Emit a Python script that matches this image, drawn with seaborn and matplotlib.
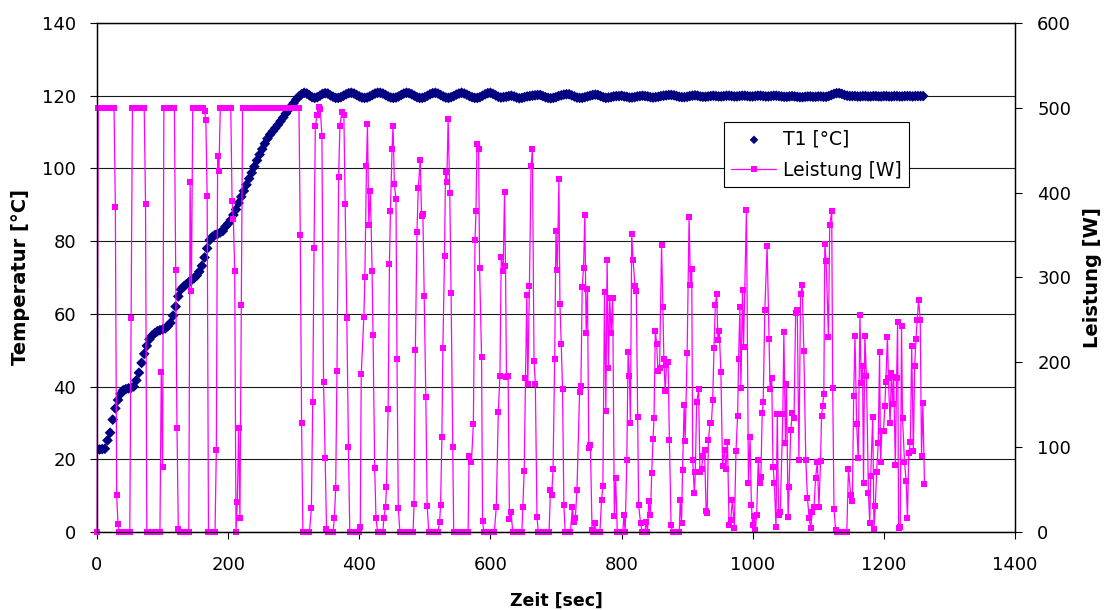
import numpy as np
import matplotlib
matplotlib.use("Agg")
import matplotlib.pyplot as plt
import seaborn as sns

# T1 [°C], one reading every 4 sec (0 .. 1260 sec)
t1_vals = [
    22.7, 22.7, 22.8, 22.9, 25.2, 27.3, 30.9, 34.0, 36.3, 38.0,
    39.0, 39.3, 39.5, 39.7, 40.0, 41.7, 43.8, 46.5, 49.0, 51.2,
    53.0, 54.0, 54.7, 55.2, 55.5, 55.7, 56.0, 56.6, 57.5, 59.5,
    62.0, 64.8, 66.7, 67.5, 68.1, 68.7, 69.3, 69.8, 70.5, 71.6,
    73.2, 75.5, 78.0, 80.3, 81.2, 81.7, 82.0, 82.4, 82.8, 84.0,
    84.8, 85.8, 87.2, 88.7, 90.5, 92.2, 93.8, 95.5, 97.2, 98.8,
    100.5, 102.2, 103.8, 105.3, 106.8, 108.2, 109.3, 110.2, 111.1, 112.0,
    113.0, 114.0, 115.1, 116.1, 117.1, 118.0, 119.0, 119.8, 120.4, 120.8,
    120.6, 120.1, 119.6, 119.4, 119.6, 120.0, 120.5, 120.7, 120.6, 120.1,
    119.7, 119.4, 119.4, 119.6, 120.0, 120.4, 120.7, 120.8, 120.6, 120.2,
    119.8, 119.5, 119.4, 119.5, 119.8, 120.2, 120.6, 120.8, 120.8, 120.6,
    120.2, 119.8, 119.5, 119.4, 119.5, 119.8, 120.2, 120.6, 120.8, 120.7,
    120.4, 120.0, 119.6, 119.4, 119.4, 119.6, 120.0, 120.4, 120.7, 120.8,
    120.6, 120.2, 119.8, 119.5, 119.4, 119.6, 119.9, 120.3, 120.6, 120.8,
    120.6, 120.3, 119.9, 119.6, 119.4, 119.4, 119.6, 120.0, 120.4, 120.7,
    120.8, 120.5, 120.1, 119.7, 119.5, 119.6, 119.7, 119.9, 120.0, 119.8,
    119.5, 119.3, 119.4, 119.6, 119.8, 119.9, 120.0, 120.1, 120.2, 120.2,
    119.9, 119.6, 119.4, 119.3, 119.4, 119.6, 119.9, 120.1, 120.3, 120.4,
    120.4, 120.1, 119.8, 119.5, 119.4, 119.4, 119.6, 119.8, 120.0, 120.2,
    120.3, 120.2, 119.9, 119.6, 119.4, 119.5, 119.6, 119.8, 119.9, 119.9,
    120.0, 119.8, 119.7, 119.5, 119.5, 119.6, 119.8, 119.9, 120.0, 119.9,
    119.8, 119.6, 119.5, 119.6, 119.7, 119.9, 120.0, 120.1, 120.2, 120.2,
    120.1, 119.9, 119.7, 119.6, 119.6, 119.7, 119.9, 120.0, 120.1, 120.0,
    119.8, 119.7, 119.7, 119.8, 119.9, 120.0, 119.9, 119.8, 119.8, 119.9,
    120.0, 120.0, 119.9, 119.8, 119.8, 119.9, 120.0, 120.0, 119.9, 119.8,
    119.8, 119.9, 120.0, 120.0, 119.9, 119.8, 119.8, 119.9, 120.0, 120.0,
    119.9, 119.8, 119.7, 119.7, 119.8, 119.9, 119.8, 119.7, 119.6, 119.6,
    119.7, 119.8, 119.8, 119.7, 119.7, 119.8, 119.8, 119.7, 119.7, 119.9,
    120.2, 120.5, 120.7, 120.7, 120.5, 120.2, 120.0, 119.9, 119.9, 119.9,
    119.8, 119.8, 119.9, 119.9, 119.8, 119.8, 119.9, 119.9, 119.8, 119.8,
    119.9, 119.9, 119.8, 119.8, 119.9, 119.9, 119.8, 119.8, 119.9, 119.9,
    119.9, 119.8, 119.9, 119.9, 119.9, 119.9,
]
t1_time = np.arange(len(t1_vals)) * 4

# Leistung [W] while heating up, one reading every 2 sec (0 .. 324 sec)
heat_w = [
    0, 500, 500, 500, 500, 500, 500, 500, 500, 500, 500, 500, 500, 500,
    383, 44, 9,
    0, 0, 0, 0, 0, 0, 0, 0, 0,
    252,
    500, 500, 500, 500, 500, 500, 500, 500, 500, 500,
    387,
    0, 0, 0, 0, 0, 0, 0, 0, 0, 0, 0,
    188, 77,
    500, 500, 500, 500, 500, 500, 500, 500, 500,
    309, 122, 4,
    0, 0, 0, 0, 0, 0, 0, 0,
    412, 284,
    500, 500, 500, 500, 500, 500, 500, 500, 500,
    496, 486, 396,
    0, 0, 0, 0, 0, 0,
    97, 443, 425,
    500, 500, 500, 500, 500, 500, 500, 500, 500,
    390, 369, 308, 0, 35, 122, 16, 268,
    500, 500, 500, 500, 500, 500, 500, 500, 500, 500, 500,
    500, 500, 500, 500, 500, 500, 500, 500, 500, 500, 500,
    500, 500, 500, 500, 500, 500, 500, 500, 500, 500, 500,
    500, 500, 500, 500, 500, 500, 500, 500, 500, 500, 500,
    350, 129,
    0, 0, 0, 0, 0, 0,
]
heat_t = np.arange(len(heat_w)) * 2

# Leistung [W] while holding 120 °C, read with their times
b_t = [327, 329, 331, 333, 335.5, 338, 340.5, 343, 345.5, 348, 350, 352, 354, 356, 358, 360,
       362, 364, 366, 368.5, 370.5, 373.5, 376.5, 378.5, 381, 383.5, 385.5, 388, 390, 392, 394, 396, 398, 400,
       401.5, 403, 407, 408.5, 411, 412.5, 414.5, 417, 419.5, 421, 423.5, 425.5, 428, 430, 432, 434, 436,
       437.5, 440, 441.5, 444, 446, 447.5, 450, 451.5, 453.5, 456, 457.5, 459.5]
b_w = [28, 153, 335, 478, 492, 501, 499, 467, 177, 87, 4, 0, 0, 0, 0, 0,
       16, 52, 190, 418, 479, 495, 492, 387, 252, 100, 0, 0, 0, 0, 0, 0, 0, 0,
       6, 186, 254, 300, 432, 481, 362, 402, 308, 232, 76, 16, 0, 0, 0, 0, 0,
       17, 29, 53, 145, 316, 378, 452, 479, 410, 392, 204, 28]

c_t = [462, 464, 466, 468, 470, 472, 474, 476, 478, 480, 482,
       483.5, 485.5, 488, 490, 493, 495, 497, 499, 501.5, 503.5,
       506, 508, 510, 512, 514, 516, 518, 520,
       522.5, 524, 526, 527.5, 530, 531.5, 533.5, 535.5, 538, 540, 542.5,
       544, 546, 548, 550, 552, 554, 556, 558, 560, 562, 564, 566,
       567.5, 571, 574, 576.5, 578, 579.5, 582, 583.5, 586.5, 588,
       590, 592, 594, 596, 598, 600, 602, 604, 606,
       609, 612, 614.5, 616.5, 619.5, 621.5, 623, 624.5, 627, 629, 631.5,
       634, 636, 638, 640, 642, 644, 646, 648,
       649.5, 651.5, 653.5, 655.5, 657, 659.5, 662, 664, 666.5, 668.5, 671]
c_w = [0, 0, 0, 0, 0, 0, 0, 0, 0, 0, 0,
       33, 214, 354, 405, 439, 372, 375, 278, 159, 31,
       0, 0, 0, 0, 0, 0, 0, 0,
       12, 32, 112, 217, 325, 424, 412, 487, 400, 282, 100,
       0, 0, 0, 0, 0, 0, 0, 0, 0, 0, 0, 0,
       90, 82, 127, 344, 378, 457, 451, 311, 206, 13,
       0, 0, 0, 0, 0, 0, 0, 0, 0,
       30, 141, 184, 324, 308, 401, 314, 183, 184, 15, 24,
       0, 0, 0, 0, 0, 0, 0, 0,
       30, 72, 181, 279, 175, 290, 431, 451, 202, 175, 18]

d_t = [673, 675, 677, 679, 681, 683, 685, 687, 689.5,
       691.5, 693.5, 695.5, 698, 700, 702, 704.5, 706, 708, 710, 712,
       714, 716, 718, 720, 722,
       725, 727.5, 729.5, 732, 736, 738, 740, 742, 744, 746, 748, 750, 752.5, 755, 757, 759,
       761, 763, 765, 767,
       769.5, 771.5, 774, 776, 778, 780, 782, 784, 786.5, 789, 791,
       793.5, 795.5, 798, 800, 802, 803.5, 805.5,
       808, 810, 812, 813.5, 815.5, 817.5, 820.5, 822.5, 824.5, 826, 829,
       831.5, 833.5, 835.5, 837.5, 839.5, 841.5, 844,
       846, 848, 849.5, 851.5, 853.5, 855.5, 858, 861, 863, 864.5, 866.5, 868.5, 871, 873, 875.5,
       878, 880, 882, 884, 886, 888,
       889.5, 891.5, 893, 895.5, 897, 900, 903, 905, 907, 908.5, 911, 912.5, 914.5, 917.5]
d_w = [0, 0, 0, 0, 0, 0, 0, 0, 0,
       50, 44, 74, 204, 355, 309, 416, 269, 222, 168, 32,
       0, 0, 0, 0, 0,
       29, 12, 16, 50, 165, 172, 289, 311, 374, 234, 286, 99, 102, 2, 0, 10,
       0, 0, 0, 0,
       38, 54, 283, 143, 321, 193, 276, 234, 276, 19, 64,
       0, 0, 0, 0, 0, 20, 0,
       85, 212, 184, 129, 351, 321, 290, 284, 136, 32, 10,
       0, 0, 0, 12, 0, 37, 20,
       69, 110, 134, 237, 222, 190, 193, 338, 265, 204, 166, 197, 200, 108, 8,
       0, 0, 0, 0, 0, 0,
       38, 11, 73, 150, 107, 211, 371, 291, 310, 85, 46, 71, 153, 168]

e_t = [919.5, 922, 924, 926.5, 929, 930.5, 932.5, 935, 937, 939, 941, 943, 945, 947, 949, 951.5,
       954, 957, 959, 961.5, 964, 966.5, 969, 972, 974.5, 977, 978.5, 980.5, 982, 984.5, 986, 990.5,
       993.5, 996, 998, 1000, 1002.5, 1004, 1006, 1008.5, 1010.5, 1012.5, 1014.5, 1016, 1018.5, 1022, 1025, 1026.5,
       1029, 1031, 1033, 1035.5, 1037.5, 1039.5, 1042, 1046, 1047.5, 1050, 1051.5, 1054, 1055.5, 1058, 1060.5, 1063,
       1065.5, 1068, 1070.5, 1073, 1075.5, 1078, 1081, 1083.5, 1086, 1088.5, 1091, 1093.5, 1096, 1098.5, 1101, 1103.5,
       1105, 1106.5, 1108.5, 1110, 1112, 1115.5, 1117.5, 1120.5, 1122, 1124, 1126.5]
e_w = [71, 74, 89, 97, 25, 22, 109, 128, 128, 156, 217, 267, 281, 226, 237, 188,
       78, 97, 74, 106, 8, 14, 38, 5, 95, 137, 204, 265, 170, 285, 218, 380,
       58, 112, 32, 8, 19, 2, 20, 85, 58, 65, 140, 153, 262, 337, 228, 169,
       182, 77, 58, 6, 139, 20, 23, 139, 236, 105, 175, 18, 53, 120, 140, 134,
       258, 262, 85, 280, 291, 213, 85, 40, 17, 5, 24, 30, 64, 83, 30, 84,
       137, 148, 163, 340, 319, 230, 362, 378, 170, 27, 2]

f_t = [1129, 1131, 1133, 1135, 1137, 1139, 1141, 1143.5,
       1146, 1149.5, 1152, 1154, 1156, 1158.5, 1161, 1163.5, 1165.5, 1167.5, 1169, 1171, 1173.5, 1176.5, 1178.5, 1180,
       1183, 1185, 1187, 1189, 1191.5, 1193.5, 1195, 1197, 1199.5, 1201.5, 1203, 1205.5, 1207, 1209.5, 1211.5, 1213.5,
       1215, 1217.5, 1219.5, 1221, 1222.5, 1225, 1227, 1228.5, 1231.5, 1234, 1236, 1238, 1240.5, 1242.5, 1245, 1247,
       1249, 1251, 1253, 1255.5, 1257.5, 1259.5, 1262]
f_w = [0, 0, 0, 0, 0, 0, 0, 0,
       74, 44, 36, 160, 231, 127, 87, 256, 176, 196, 58, 231, 184, 46, 11, 66,
       135, 4, 31, 71, 105, 212, 82, 119, 119, 148, 177, 230, 181, 128, 187, 151,
       183, 79, 181, 248, 5, 6, 243, 134, 83, 60, 16, 93, 106, 219, 95, 196,
       227, 250, 274, 250, 89, 152, 56]

for tt, ww in [(b_t, b_w), (c_t, c_w), (d_t, d_w), (e_t, e_w), (f_t, f_w)]:
    assert len(tt) == len(ww), (len(tt), len(ww))

lt = np.concatenate([heat_t, b_t, c_t, d_t, e_t, f_t])
lw = np.concatenate([heat_w, b_w, c_w, d_w, e_w, f_w])

# Style
sns.set_style("white")
plt.rcParams['font.family'] = ['DejaVu Sans']
plt.rcParams['text.color'] = 'black'
plt.rcParams['axes.labelcolor'] = 'black'

fig = plt.figure(figsize=(11.06, 6.10), dpi=100)
ax = fig.add_axes([0.0877, 0.1279, 0.830, 0.8344])

sns.scatterplot(x=t1_time, y=t1_vals, marker='D', s=30, color='#000080',
                edgecolor='none', linewidth=0, ax=ax, label='T1 [°C]', zorder=3)
ax.get_legend().remove()
ax.set_xlim(0, 1400)
ax.set_ylim(0, 140)
ax.set_xticks(range(0, 1401, 200))
ax.set_yticks(range(0, 141, 20))
ax.set_axisbelow(True)
ax.grid(axis='y', color='#1a1a1a', linewidth=0.8)
ax.grid(axis='x', visible=False)

ax2 = ax.twinx()
sns.lineplot(x=lt, y=lw, color='#FF00FF', marker='s', markersize=5,
             markeredgewidth=0, linewidth=0.9, ax=ax2, label='Leistung [W]',
             estimator=None, sort=False, clip_on=False)
ax2.set_ylim(0, 600)
ax2.set_yticks(range(0, 601, 100))
ax2.grid(False)

# Ticks and spines
ax.tick_params(axis='both', direction='out', length=5, width=0.8,
               labelsize=13, colors='black', bottom=True, left=True)
ax.tick_params(axis='x', pad=12)
ax.tick_params(axis='y', pad=10)
ax2.tick_params(axis='y', direction='out', length=5, width=0.8,
                labelsize=13, colors='black', right=True, pad=11)
for a in (ax, ax2):
    for sp in a.spines.values():
        sp.set_visible(True)
        sp.set_color('black')
        sp.set_linewidth(0.9)

# Axis labels
ax.set_xlabel('Zeit [sec]', fontsize=12.5, fontweight='bold', color='black')
ax.xaxis.set_label_coords(0.5, -0.118)
ax.set_ylabel('Temperatur [°C]', fontsize=14, fontweight='bold', color='black')
ax.yaxis.set_label_coords(-0.073, 0.5)
ax2.set_ylabel('Leistung [W]', fontsize=14, fontweight='bold', color='black')
ax2.yaxis.set_label_coords(1.074, 0.5)

# Legend with both series
h1, l1 = ax.get_legend_handles_labels()
h2, l2 = ax2.get_legend_handles_labels()
leg = ax2.legend(h1 + h2, l1 + l2, loc='upper left', bbox_to_anchor=(0.683, 0.805),
                 borderaxespad=0, frameon=True, fancybox=False, framealpha=1,
                 edgecolor='black', fontsize=13.5, handlelength=2.4,
                 handletextpad=0.35, borderpad=0.4, labelspacing=0.65,
                 markerscale=0.8)
leg.get_frame().set_linewidth(0.8)
leg.set_zorder(10)
for txt in leg.get_texts():
    txt.set_color('black')

fig.savefig('out.png', dpi=100)
